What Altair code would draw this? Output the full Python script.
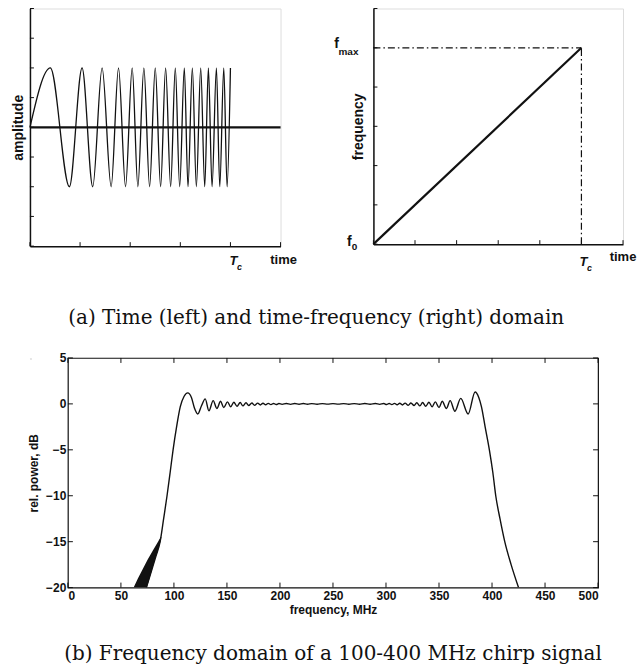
import altair as alt
import pandas as pd

SANS = "Liberation Sans"
SERIF = "DejaVu Serif"
INK = "#111111"

# ---------------- data ----------------
# (a, left) chirp waveform: times of the crests (+1) and troughs (-1)
chirp_start_t = [0.0]
chirp_start_amp = [0.0]
chirp_peak_t = [0.407, 1.04, 1.44, 1.767, 2.04, 2.273, 2.5, 2.707, 2.9, 3.08,
                3.24, 3.407, 3.56, 3.72, 3.867, 4.0]
chirp_trough_t = [0.787, 1.253, 1.62, 1.907, 2.153, 2.387, 2.607, 2.807, 2.987,
                  3.153, 3.32, 3.487, 3.633, 3.787, 3.933]
amp_ticks = [-2.0, -1.5, -1.0, -0.5, 0.0, 0.5, 1.0, 1.5, 2.0]
time_ticks = [0, 1, 2, 3, 4, 5]
zero_line_t = [0, 5]
tc_left = 4

# (a, right) linear frequency sweep
sweep_t = [0, 5]
sweep_f = [0, 5]
tf_ticks = [0, 1, 2, 3, 4, 5, 6]
f_max = 5
tc_right = 5

# (b) spectrum of the 100-400 MHz chirp
spec_mhz = [74, 78.5, 83, 87, 90.3, 93.5, 96.4, 99.2, 102.5, 106.0, 109.5, 113.0,
            116.5, 119.5, 122.5, 126.0, 129.5, 133.0, 137.0, 140.5, 144.0, 147.0,
            150.5, 153.5, 156.5, 159.5, 162.5, 165.0, 168.0, 170.5, 173.5, 176.0,
            179.0, 181.5, 184.0, 186.5, 189.0, 191.5, 194.0, 196.5, 199.0, 202,
            206, 210, 214, 218, 222, 226, 230, 235, 240, 245, 250, 255, 260, 265,
            270, 275, 280, 285, 290, 294, 298, 300.5, 303, 305.5, 308, 310.5, 313,
            315.5, 318, 321, 323.5, 326.5, 329, 332, 334.5, 337.5, 340.5, 343.5,
            346.5, 350, 353, 357, 360.5, 365, 370.5, 377.5, 384, 387.5, 390, 393.5,
            397.5, 400.8, 403.5, 407.5, 412, 418, 425]
spec_db = [-20.0, -18.3, -16.6, -15.0, -12.5, -10.0, -7.5, -5.0, -2.5, -0.3, 0.8, 1.2,
           0.7, -0.5, -1.1, -0.2, 0.55, -0.75, 0.35, -0.5, 0.28, -0.4,
           0.22, -0.32, 0.18, -0.26, 0.15, -0.22, 0.12, -0.18, 0.1, -0.15,
           0.08, -0.12, 0.07, -0.1, 0.06, -0.08, 0.05, -0.07, 0.04, -0.05,
           0.04, -0.05, 0.04, -0.04, 0.04, -0.04, 0.03, -0.04, 0.03, -0.03, 0.03, -0.03, 0.03, -0.04,
           0.03, -0.04, 0.04, -0.04, 0.04, -0.05, 0.04, -0.07, 0.05, -0.08, 0.06, -0.1, 0.07,
           -0.12, 0.08, -0.15, 0.1, -0.18, 0.12, -0.22, 0.15, -0.26, 0.18, -0.32,
           0.22, -0.4, 0.28, -0.5, 0.35, -0.8, 0.6, -1.1, 1.3, 0.7, -0.3, -2.5,
           -5.0, -7.5, -10.0, -12.5, -15.0, -17.5, -20.0]
wedge_db = [-20, -19, -18, -17, -16, -15, -14.5]
wedge_lo = [62, 66, 70.5, 75, 80, 85, 87.5]
wedge_hi = [74.5, 77, 79.5, 82, 84.8, 87.3, 88.2]
mhz_ticks = [0, 50, 100, 150, 200, 250, 300, 350, 400, 450, 500]
db_ticks = [-20, -15, -10, -5, 0, 5]

CAPTION_A = "(a)  Time (left) and time-frequency (right) domain"
CAPTION_B = "(b) Frequency domain of a 100-400 MHz chirp signal"

# ---------------- top-left panel ----------------
LW, LH = 251, 238
xL = alt.Scale(domain=[0, 5], nice=False, zero=False)
yL = alt.Scale(domain=[-2, 2], nice=False, zero=False)
axL_x = alt.Axis(title=None, labels=False, ticks=False, grid=False,
                 domainColor=INK, domainWidth=1.5)
axL_y = alt.Axis(title="amplitude", labels=False, ticks=False, grid=False,
                 domainColor=INK, domainWidth=1.5, titleFont=SANS, titleFontSize=14,
                 titleFontWeight="bold", titleColor=INK, titlePadding=4)


def XL(f="t"):
    return alt.X(f + ":Q", scale=xL, axis=axL_x)


def YL(f="amp"):
    return alt.Y(f + ":Q", scale=yL, axis=axL_y)


chirp_df = pd.DataFrame({
    "t": chirp_start_t + chirp_peak_t + chirp_trough_t,
    "amp": chirp_start_amp + [1.0] * len(chirp_peak_t) + [-1.0] * len(chirp_trough_t),
}).sort_values("t")

l_chirp = alt.Chart(chirp_df).mark_line(interpolate="monotone", color=INK,
                                        strokeWidth=1.3).encode(x=XL(), y=YL())
l_zero = alt.Chart(pd.DataFrame({"t": [zero_line_t[0]], "t2": [zero_line_t[1]], "amp": [0.0]})
                   ).mark_rule(color=INK, strokeWidth=2.2).encode(x=XL(), x2="t2:Q", y=YL())
l_yt = alt.Chart(pd.DataFrame({"amp": amp_ticks})).mark_rule(color=INK, strokeWidth=1).encode(
    y=YL(), x=alt.value(0), x2=alt.value(4))
l_xt = alt.Chart(pd.DataFrame({"t": time_ticks})).mark_rule(color=INK, strokeWidth=1).encode(
    x=XL(), y=alt.value(LH), y2=alt.value(LH - 4))
l_T = alt.Chart(pd.DataFrame({"t": [tc_left], "amp": [-2.0], "s": ["T"]})).mark_text(
    font=SANS, fontSize=13, fontWeight="bold", fontStyle="italic", color=INK, dx=3, dy=15
).encode(x=XL(), y=YL(), text="s:N")
l_c = alt.Chart(pd.DataFrame({"t": [tc_left], "amp": [-2.0], "s": ["c"]})).mark_text(
    font=SANS, fontSize=9, fontWeight="bold", fontStyle="italic", color=INK, dx=9, dy=21
).encode(x=XL(), y=YL(), text="s:N")
l_time = alt.Chart(pd.DataFrame({"t": [5], "amp": [-2.0], "s": ["time"]})).mark_text(
    font=SANS, fontSize=13, fontWeight="bold", color=INK, dx=3, dy=14
).encode(x=XL(), y=YL(), text="s:N")

left = alt.layer(l_zero, l_chirp, l_yt, l_xt, l_T, l_c, l_time).properties(width=LW, height=LH)

# ---------------- top-right panel ----------------
RW, RH = 250, 236
xR = alt.Scale(domain=[0, 6], nice=False, zero=False)
yR = alt.Scale(domain=[0, 6], nice=False, zero=False)
axR_x = alt.Axis(title=None, labels=False, ticks=False, grid=False,
                 domainColor=INK, domainWidth=1.5)
axR_y = alt.Axis(title="frequency", labels=False, ticks=False, grid=False,
                 domainColor=INK, domainWidth=1.5, titleFont=SANS, titleFontSize=14,
                 titleFontWeight="bold", titleColor=INK, titlePadding=8)


def XR(f="rt"):
    return alt.X(f + ":Q", scale=xR, axis=axR_x)


def YR(f="rf"):
    return alt.Y(f + ":Q", scale=yR, axis=axR_y)


r_line = alt.Chart(pd.DataFrame({"rt": sweep_t, "rf": sweep_f})).mark_line(
    color=INK, strokeWidth=2.2).encode(x=XR(), y=YR())
r_h = alt.Chart(pd.DataFrame({"rt": [0], "rt2": [tc_right], "rf": [f_max]})).mark_rule(
    color=INK, strokeWidth=1.2, strokeDash=[7, 3, 1.5, 3]).encode(x=XR(), x2="rt2:Q", y=YR())
r_v = alt.Chart(pd.DataFrame({"rt": [tc_right], "rf": [0], "rf2": [f_max]})).mark_rule(
    color=INK, strokeWidth=1.2, strokeDash=[7, 3, 1.5, 3]).encode(x=XR(), y=YR(), y2="rf2:Q")
r_yt = alt.Chart(pd.DataFrame({"rf": tf_ticks})).mark_rule(color=INK, strokeWidth=1).encode(
    y=YR(), x=alt.value(0), x2=alt.value(4))
r_xt = alt.Chart(pd.DataFrame({"rt": tf_ticks})).mark_rule(color=INK, strokeWidth=1).encode(
    x=XR(), y=alt.value(RH), y2=alt.value(RH - 4))


def rtext(t, f, s, size, dx, dy, style="normal"):
    return alt.Chart(pd.DataFrame({"rt": [t], "rf": [f], "s": [s]})).mark_text(
        font=SANS, fontSize=size, fontWeight="bold", fontStyle=style, color=INK, dx=dx, dy=dy
    ).encode(x=XR(), y=YR(), text="s:N")


r_labels = [
    rtext(0, f_max, "f", 14, -37, -4),
    rtext(0, f_max, "max", 10, -25, 4),
    rtext(0, 0, "f", 14, -24, -2),
    rtext(0, 0, "0", 10, -19, 3),
    rtext(tc_right, 0, "T", 13, 2, 18, "italic"),
    rtext(tc_right, 0, "c", 9, 8, 24, "italic"),
    rtext(6, 0, "time", 13, 0, 13),
]

right = alt.layer(r_h, r_v, r_line, r_yt, r_xt, *r_labels).properties(width=RW, height=RH)

top = alt.hconcat(
    left, right, spacing=93, bounds="flush",
    title=alt.TitleParams(text=CAPTION_A, orient="bottom", anchor="middle", font=SERIF,
                          fontSize=20, fontWeight="normal", color=INK, offset=34, dx=-8),
).resolve_scale(x="independent", y="independent")

# ---------------- bottom panel ----------------
BW, BH = 531, 230
xB = alt.Scale(domain=[0, 500], nice=False, zero=False)
yB = alt.Scale(domain=[-20, 5], nice=False, zero=False)
axB_x = alt.Axis(title="frequency, MHz", values=mhz_ticks, format="d", ticks=False, grid=False,
                 domain=False, labelFont=SANS, labelFontSize=12, labelFontWeight="bold",
                 labelColor=INK, labelPadding=3, titleFont=SANS, titleFontSize=12,
                 titleFontWeight="bold", titleColor=INK, titlePadding=3)
axB_y = alt.Axis(title="rel. power, dB", values=db_ticks, format="d", ticks=False, grid=False,
                 domain=False, labelFont=SANS, labelFontSize=12, labelFontWeight="bold",
                 labelColor=INK, labelPadding=2, titleFont=SANS, titleFontSize=12,
                 titleFontWeight="bold", titleColor=INK, titlePadding=5)


def XB(f="mhz"):
    return alt.X(f + ":Q", scale=xB, axis=axB_x)


def YB(f="db"):
    return alt.Y(f + ":Q", scale=yB, axis=axB_y)


b_spec = alt.Chart(pd.DataFrame({"mhz": spec_mhz, "db": spec_db})).mark_line(
    interpolate="monotone", color=INK, strokeWidth=1.4, clip=True).encode(x=XB(), y=YB())
b_wedge = alt.Chart(pd.DataFrame({"db": wedge_db, "mhz": wedge_lo, "mhz2": wedge_hi})).mark_area(
    orient="horizontal", color=INK, clip=True).encode(y=YB(), x=XB(), x2="mhz2:Q")
b_lt = alt.Chart(pd.DataFrame({"db": db_ticks})).mark_rule(color=INK, strokeWidth=1).encode(
    y=YB(), x=alt.value(0), x2=alt.value(5))
b_rt = alt.Chart(pd.DataFrame({"db": db_ticks})).mark_rule(color=INK, strokeWidth=1).encode(
    y=YB(), x=alt.value(BW), x2=alt.value(BW - 5))
b_bt = alt.Chart(pd.DataFrame({"mhz": mhz_ticks})).mark_rule(color=INK, strokeWidth=1).encode(
    x=XB(), y=alt.value(BH), y2=alt.value(BH - 5))
b_tt = alt.Chart(pd.DataFrame({"mhz": mhz_ticks})).mark_rule(color=INK, strokeWidth=1).encode(
    x=XB(), y=alt.value(0), y2=alt.value(5))

bottom = alt.layer(b_wedge, b_spec, b_lt, b_rt, b_bt, b_tt).properties(
    width=BW, height=BH,
    view=alt.ViewBackground(stroke=INK, strokeWidth=1.2),
    title=alt.TitleParams(text=CAPTION_B, orient="bottom", anchor="middle", font=SERIF,
                          fontSize=20, fontWeight="normal", color=INK, offset=29),
)

spacer = alt.Chart(pd.DataFrame({"s": [0]})).mark_point(opacity=0, size=1).encode(
    x=alt.X("s:Q", axis=None), y=alt.Y("s:Q", axis=None)).properties(width=1, height=1)

bottom_row = alt.hconcat(spacer, bottom, spacing=37, bounds="flush").resolve_scale(
    x="independent", y="independent")

chart = alt.vconcat(top, bottom_row, spacing=350, bounds="flush").resolve_scale(
    x="independent", y="independent"
).properties(
    padding={"left": 11, "top": 7, "right": 0, "bottom": 0}
).configure_view(strokeWidth=0).configure(background="white")

chart.save("out.html", embed_options={"renderer": "svg", "actions": False})
